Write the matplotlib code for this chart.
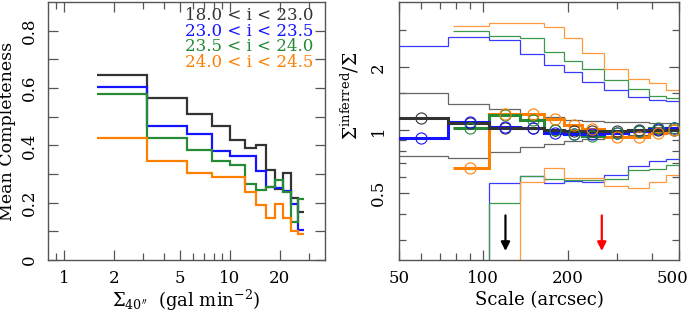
import numpy as np
import matplotlib
matplotlib.use('Agg')
import matplotlib.pyplot as plt
from matplotlib.ticker import FixedLocator, FixedFormatter, NullFormatter

plt.rcParams['font.family'] = ['DejaVu Serif']
plt.rcParams['mathtext.fontset'] = 'dejavuserif'

# ---- left panel: mean completeness vs local density ----
dens_edges = [1.57, 3.18, 5.48, 7.79, 10.0, 12.3, 14.3, 16.6, 18.7, 20.9, 23.3, 25.8, 27.9]
comp_18_23 = [0.645, 0.565, 0.510, 0.469, 0.418, 0.392, 0.400, 0.314, 0.248, 0.304, 0.218, 0.166]
comp_23_235 = [0.603, 0.467, 0.439, 0.381, 0.364, 0.362, 0.311, 0.256, 0.252, 0.240, 0.196, 0.104]
comp_235_24 = [0.578, 0.427, 0.385, 0.347, 0.331, 0.266, 0.245, 0.254, 0.280, 0.237, 0.133, 0.214]
comp_24_245 = [0.427, 0.347, 0.303, 0.289, 0.291, 0.237, 0.191, 0.148, 0.194, 0.145, 0.100, 0.092]
mag_labels = ['18.0 < i < 23.0', '23.0 < i < 23.5',
              '23.5 < i < 24.0', '24.0 < i < 24.5']

# ---- right panel: inferred / true density vs scale ----
scale_edges = [45, 75, 105, 135, 165, 195, 225, 270, 330, 390, 450, 510]
scale_edges_faint = [78, 105, 135, 165, 195, 225, 270, 330, 390, 450, 510]
scale_mid = [60, 90, 120, 150, 180, 210, 245, 300, 360, 420, 480]
scale_mid_faint = [90, 120, 150, 180, 210, 245, 300, 360, 420, 480]

ratio_18_23 = [1.14, 1.08, 1.03, 1.02, 1.00, 0.99, 0.99, 0.99, 1.00, 1.00, 1.00]
hi_18_23 = [1.50, 1.34, 1.26, 1.20, 1.16, 1.125, 1.11, 1.095, 1.09, 1.08, 1.08]
lo_18_23 = [0.75, 0.74, 0.79, 0.83, 0.86, 0.89, 0.91, 0.93, 0.95, 0.96, 0.97]

ratio_23_235 = [0.92, 1.10, 1.04, 1.02, 0.975, 0.955, 0.955, 0.975, 0.99, 1.01, 1.025]
hi_23_235 = [2.52, 2.79, 2.71, 2.31, 2.05, 1.89, 1.70, 1.55, 1.44, 1.39, 1.38]
lo_23_235 = [0.01, 0.01, 0.562, 0.604, 0.56, 0.57, 0.566, 0.614, 0.673, 0.711, 0.727]

ratio_235_24 = [1.03, 1.18, 1.12, 1.00, 0.96, 0.935, 0.97, 0.99, 1.03, 1.02]
hi_235_24 = [2.98, 2.81, 2.75, 2.37, 2.15, 1.97, 1.73, 1.57, 1.45, 1.43]
lo_235_24 = [0.01, 0.45, 0.604, 0.587, 0.58, 0.58, 0.587, 0.649, 0.656, 0.68]

ratio_24_245 = [0.66, 1.19, 1.19, 1.13, 1.06, 1.01, 0.93, 0.93, 0.97, 1.00]
hi_24_245 = [3.15, 3.25, 3.25, 3.11, 2.75, 2.35, 1.96, 1.75, 1.69, 1.56]
lo_24_245 = [0.01, 0.01, 0.566, 0.66, 0.591, 0.591, 0.541, 0.532, 0.566, 0.609]

arrow_x = [120, 265]
arrow_colors = ['black', 'red']

colors = ['#333333', '#1414ff', '#268a36', '#ff8000']
thin_colors = ['#666666', '#3a3aff', '#3d9a4c', '#ff9a40']
frame_color = '#555555'

fig = plt.figure(figsize=(6.92, 3.12), dpi=100)
axL = fig.add_axes([48 / 692, 52 / 312, 277 / 692, 258 / 312])
axR = fig.add_axes([399 / 692, 52 / 312, 280 / 692, 258 / 312])

for ax in (axL, axR):
    for sp in ax.spines.values():
        sp.set_color(frame_color)
        sp.set_linewidth(1.0)
    ax.tick_params(which='both', direction='in', top=True, right=True,
                   color=frame_color, labelsize=12)
    ax.tick_params(which='major', length=7, width=0.9)
    ax.tick_params(which='minor', length=5, width=0.9)
    ax.tick_params(axis='y', labelrotation=90)

# left panel
for vals, c in zip([comp_18_23, comp_23_235, comp_235_24, comp_24_245], colors):
    axL.stairs(vals, dens_edges, baseline=None, color=c, lw=1.6)

axL.set_xscale('log')
axL.set_xlim(0.8, 37.5)
axL.set_ylim(0, 0.9)
axL.xaxis.set_major_locator(FixedLocator([1, 2, 5, 10, 20]))
axL.xaxis.set_major_formatter(FixedFormatter(['1', '2', '5', '10', '20']))
axL.xaxis.set_minor_locator(FixedLocator([0.9, 3, 4, 6, 7, 8, 9, 30]))
axL.xaxis.set_minor_formatter(NullFormatter())
axL.yaxis.set_major_locator(FixedLocator([0, 0.2, 0.4, 0.6, 0.8]))
axL.yaxis.set_major_formatter(FixedFormatter(['0', '0.2', '0.4', '0.6', '0.8']))
axL.yaxis.set_minor_locator(FixedLocator([0.1, 0.3, 0.5, 0.7]))
axL.tick_params(axis='y', which='minor', length=7)
axL.tick_params(axis='x', pad=7)
axL.tick_params(axis='y', pad=7)
for lab in axL.get_yticklabels():
    lab.set_va('center')

for k, (txt, c) in enumerate(zip(mag_labels, colors)):
    axL.text(0.957, 0.946 - k * 0.06, txt, color=c, transform=axL.transAxes,
             ha='right', va='center', fontsize=12)

axL.set_xlabel(r"$\Sigma_{40^{\prime\prime}}$  (gal min$^{-2}$)", fontsize=13, labelpad=1)
axL.set_ylabel('Mean Completeness', fontsize=12.5, labelpad=4)

# right panel
series = [
    (scale_edges, scale_mid, ratio_18_23, hi_18_23, lo_18_23),
    (scale_edges, scale_mid, ratio_23_235, hi_23_235, lo_23_235),
    (scale_edges_faint, scale_mid_faint, ratio_235_24, hi_235_24, lo_235_24),
    (scale_edges_faint, scale_mid_faint, ratio_24_245, hi_24_245, lo_24_245),
]
for (edges, mids, med, hi, lo), c, tc in zip(series, colors, thin_colors):
    axR.stairs(hi, edges, baseline=None, color=tc, lw=0.9, zorder=2)
    axR.stairs(lo, edges, baseline=None, color=tc, lw=0.9, zorder=2)
for (edges, mids, med, hi, lo), c in zip(series[::-1], colors[::-1]):
    axR.stairs(med, edges, baseline=None, color=c, lw=2.2, zorder=3)
for (edges, mids, med, hi, lo), c in zip(series, colors):
    axR.plot(mids, med, 'o', mfc='none', mec=c, ms=8, mew=0.8, zorder=4)

for x, c in zip(arrow_x, arrow_colors):
    axR.annotate('', xy=(x, 0.265), xytext=(x, 0.392),
                 arrowprops=dict(arrowstyle='-|>', color=c, lw=1.6,
                                 mutation_scale=13, shrinkA=0, shrinkB=0))

axR.set_xscale('log')
axR.set_yscale('log')
axR.set_xlim(50, 500)
axR.set_ylim(0.24, 4.1)
axR.xaxis.set_major_locator(FixedLocator([50, 100, 200, 500]))
axR.xaxis.set_major_formatter(FixedFormatter(['50', '100', '200', '']))
axR.xaxis.set_minor_locator(FixedLocator([60, 70, 80, 90, 300, 400]))
axR.xaxis.set_minor_formatter(NullFormatter())
axR.yaxis.set_major_locator(FixedLocator([0.5, 1, 2]))
axR.yaxis.set_major_formatter(FixedFormatter(['0.5', '1', '2']))
axR.yaxis.set_minor_locator(FixedLocator([0.3, 0.4, 0.6, 0.7, 0.8, 0.9, 1.5, 3]))
axR.yaxis.set_minor_formatter(NullFormatter())
axR.tick_params(axis='x', pad=7)
axR.tick_params(axis='y', pad=9)
for lab in axR.get_yticklabels():
    lab.set_va('center')
# last x label pulled inward so it stays inside the figure
axR.annotate('500', xy=(500, 0), xycoords=('data', 'axes fraction'),
             xytext=(-5, -7), textcoords='offset points',
             ha='center', va='top', fontsize=12)

axR.set_xlabel('Scale (arcsec)', fontsize=13, labelpad=3)
axR.set_ylabel(r"$\Sigma^{\rm inferred}/\Sigma$", fontsize=13.5)
axR.yaxis.set_label_coords(-0.136, 0.636)

fig.savefig('out.png', dpi=100)
